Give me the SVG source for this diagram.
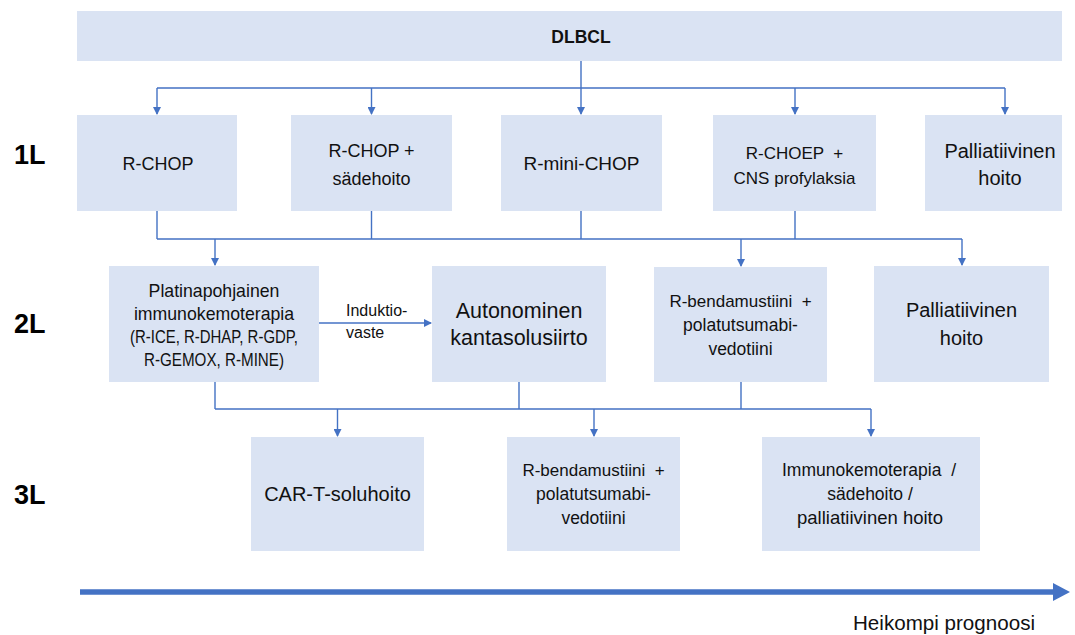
<svg xmlns="http://www.w3.org/2000/svg" width="1075" height="635" viewBox="0 0 1075 635">
<defs>
<style>
.box{fill:#DAE3F3}
.t{font-family:"Liberation Sans",Arial,sans-serif;fill:#111;text-anchor:middle}
.lvl{font-family:"Liberation Sans",Arial,sans-serif;font-weight:bold;font-size:27px;fill:#000}
.c{fill:none;stroke:#4472C4;stroke-width:1.4}
</style>
<marker id="ah" markerWidth="8" markerHeight="8" refX="7" refY="4" orient="auto" markerUnits="userSpaceOnUse">
<path d="M0,0 L8,4 L0,8 Z" fill="#4472C4"/>
</marker>
</defs>
<rect width="1075" height="635" fill="#fff"/>

<g id="levels">
<text class="lvl" x="14" y="164">1L</text>
<text class="lvl" x="14" y="333">2L</text>
<text class="lvl" x="14" y="504">3L</text>
</g>

<g id="connectors">
<path class="c" d="M581,61 V88 M157,88 H1005"/>
<path class="c" d="M157,88 V114" marker-end="url(#ah)"/>
<path class="c" d="M371.5,88 V114" marker-end="url(#ah)"/>
<path class="c" d="M581,88 V114" marker-end="url(#ah)"/>
<path class="c" d="M795,88 V114" marker-end="url(#ah)"/>
<path class="c" d="M1005,88 V114" marker-end="url(#ah)"/>
<path class="c" d="M157,211 V239 M371.5,211 V239 M581,211 V239 M795,211 V239 M157,239 H962"/>
<path class="c" d="M215,239 V265" marker-end="url(#ah)"/>
<path class="c" d="M741,239 V266" marker-end="url(#ah)"/>
<path class="c" d="M962,239 V265" marker-end="url(#ah)"/>
<path class="c" d="M319,323 H431" marker-end="url(#ah)"/>
<path class="c" d="M215,382 V409 M519,382 V409 M741,382 V409 M215,409 H871"/>
<path class="c" d="M337.5,409 V436" marker-end="url(#ah)"/>
<path class="c" d="M594,409 V436" marker-end="url(#ah)"/>
<path class="c" d="M871,409 V436" marker-end="url(#ah)"/>
</g>

<g id="dlbcl">
<rect class="box" x="77" y="11" width="985" height="50"/>
<text class="t" x="581" y="43" style="font-weight:bold;font-size:17.5px">DLBCL</text>
</g>

<g id="rchop">
<rect class="box" x="77" y="115" width="160" height="96"/>
<text class="t" x="158" y="170" font-size="18">R-CHOP</text>
</g>
<g id="rchop-sade">
<rect class="box" x="291" y="115" width="161" height="96"/>
<text class="t" x="371.5" y="157" font-size="18">R-CHOP +</text>
<text class="t" x="371.5" y="185" font-size="18">sädehoito</text>
</g>
<g id="rminichop">
<rect class="box" x="501" y="115" width="161" height="96"/>
<text class="t" x="581.5" y="170" font-size="19">R-mini-CHOP</text>
</g>
<g id="rchoep">
<rect class="box" x="713" y="115" width="163" height="96"/>
<text class="t" x="794.5" y="159" font-size="17" xml:space="preserve">R-CHOEP  +</text>
<text class="t" x="794.5" y="184" font-size="17">CNS profylaksia</text>
</g>
<g id="pall1">
<rect class="box" x="925" y="115" width="137" height="96"/>
<text class="t" x="1000" y="158" font-size="20">Palliatiivinen</text>
<text class="t" x="1000" y="185" font-size="20">hoito</text>
</g>

<g id="platina">
<rect class="box" x="109" y="266" width="210" height="116"/>
<text class="t" x="214" y="297" font-size="17.7">Platinapohjainen</text>
<text class="t" x="214" y="320" font-size="17.7">immunokemoterapia</text>
<text class="t" x="214" y="343" font-size="17.7" textLength="168" lengthAdjust="spacingAndGlyphs">(R-ICE, R-DHAP, R-GDP,</text>
<text class="t" x="214" y="366" font-size="17.7" textLength="140" lengthAdjust="spacingAndGlyphs">R-GEMOX, R-MINE)</text>
</g>
<g id="induktio-label">
<text x="346" y="316" font-family="Liberation Sans, Arial, sans-serif" font-size="16" fill="#111">Induktio-</text>
<text x="346" y="338" font-family="Liberation Sans, Arial, sans-serif" font-size="16" fill="#111">vaste</text>
</g>
<g id="autonominen">
<rect class="box" x="432" y="266" width="174" height="116"/>
<text class="t" x="519" y="318" font-size="21.5">Autonominen</text>
<text class="t" x="519" y="345" font-size="21.5">kantasolusiirto</text>
</g>
<g id="rbenda2">
<rect class="box" x="654" y="267" width="173" height="115"/>
<text class="t" x="740.5" y="307" font-size="17" xml:space="preserve">R-bendamustiini  +</text>
<text class="t" x="740.5" y="331" font-size="17.5">polatutsumabi-</text>
<text class="t" x="740.5" y="355" font-size="17.5">vedotiini</text>
</g>
<g id="pall2">
<rect class="box" x="874" y="266" width="175" height="116"/>
<text class="t" x="961.5" y="317" font-size="20">Palliatiivinen</text>
<text class="t" x="961.5" y="345" font-size="20">hoito</text>
</g>

<g id="cart">
<rect class="box" x="251" y="437" width="173" height="114"/>
<text class="t" x="337.5" y="501" font-size="20">CAR-T-soluhoito</text>
</g>
<g id="rbenda3">
<rect class="box" x="507" y="437" width="173" height="114"/>
<text class="t" x="593.5" y="476" font-size="17" xml:space="preserve">R-bendamustiini  +</text>
<text class="t" x="593.5" y="500" font-size="17.5">polatutsumabi-</text>
<text class="t" x="593.5" y="524" font-size="17.5">vedotiini</text>
</g>
<g id="immuno">
<rect class="box" x="762" y="437" width="218" height="114"/>
<text class="t" x="869" y="476" font-size="17.5" xml:space="preserve">Immunokemoterapia  /</text>
<text class="t" x="870" y="500" font-size="17.5">sädehoito /</text>
<text class="t" x="870" y="524" font-size="18.5">palliatiivinen hoito</text>
</g>

<g id="prognosis">
<path d="M80,592 H1055" stroke="#4472C4" stroke-width="5.5" fill="none"/>
<path d="M1053,583 L1070,592 L1053,601 Z" fill="#4472C4"/>
<text x="853" y="630" font-family="Liberation Sans, Arial, sans-serif" font-size="20.6" fill="#111">Heikompi prognoosi</text>
</g>
</svg>
